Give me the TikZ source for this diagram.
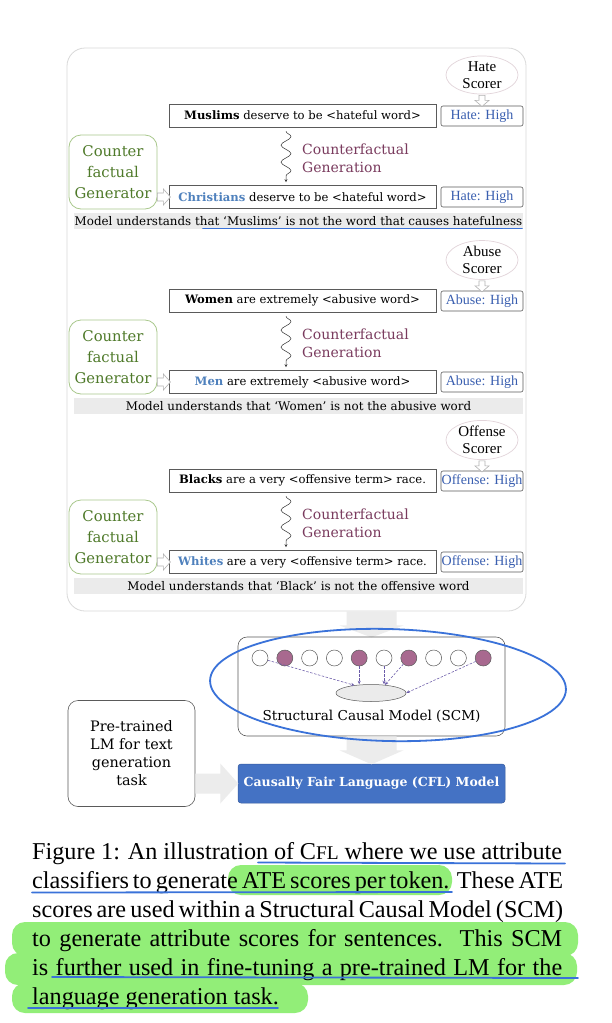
\documentclass[tikz,border=0pt]{standalone}
\usepackage{fontspec}
\setmainfont{Liberation Serif}
\newfontfamily\lora{DejaVu Serif}
\usetikzlibrary{shapes.geometric,decorations.pathmorphing,arrows.meta,calc}
\definecolor{boxgray}{HTML}{5A5A5A}
\definecolor{outergray}{HTML}{D9D9D9}
\definecolor{scoreblue}{HTML}{3A5FB0}
\definecolor{cflblue}{HTML}{4F81BD}
\definecolor{scorerpink}{HTML}{E2D4DA}
\definecolor{gengreen}{HTML}{A9C88C}
\definecolor{gentext}{HTML}{4F7A2A}
\definecolor{cfpurple}{HTML}{7A3B5E}
\definecolor{bargray}{HTML}{EBEBEB}
\definecolor{blockgray}{HTML}{ECECEC}
\definecolor{dotpurple}{HTML}{A8698F}
\definecolor{dasharrow}{HTML}{6A5AA8}
\definecolor{cflfill}{HTML}{4472C4}
\definecolor{penblue}{HTML}{3A72D9}
\definecolor{hlgreen}{RGB}{146,238,120}
\tikzset{
 sent/.style={draw=boxgray, line width=0.6pt, minimum width=267pt, minimum height=23pt, inner sep=0pt, font=\lora\fontsize{11.6}{13}\selectfont},
 score/.style={draw=boxgray, rounded corners=2pt, line width=0.6pt, minimum width=82pt, minimum height=20pt, inner sep=0pt, text=scoreblue, font=\fontsize{14}{16}\selectfont},
 scorer/.style={ellipse, draw=scorerpink, line width=0.7pt, minimum width=72pt, minimum height=38pt, inner sep=0pt, align=center, font=\fontsize{15}{17}\selectfont},
 gen/.style={draw=gengreen, rounded corners=12pt, line width=0.8pt, minimum width=88pt, minimum height=74pt, inner sep=0pt, align=center, text=gentext, font=\lora\fontsize{14.8}{21}\selectfont},
 cfgen/.style={align=left, text=cfpurple, inner sep=0pt, font=\lora\fontsize{14}{18}\selectfont},
 bar/.style={fill=bargray, minimum width=449pt, minimum height=16pt, inner sep=0pt, font=\lora\fontsize{11.9}{12}\selectfont},
 wavy/.style={draw=black!80, line width=0.5pt, decorate, decoration={snake, segment length=17pt, amplitude=5pt, post length=3pt}, -{Stealth[length=3pt,width=3pt]}},
 hollow/.style={draw=gray!60, fill=white, line width=0.6pt},
 block/.style={fill=blockgray, draw=none},
 dot/.style={circle, draw=boxgray, line width=0.5pt, minimum size=16pt, inner sep=0pt},
 pdot/.style={dot, fill=dotpurple},
 darr/.style={draw=dasharrow, line width=0.55pt, dash pattern=on 2.5pt off 1.5pt, -{Stealth[length=3.5pt,width=3pt]}},
 capline/.style={anchor=base west, inner sep=0pt, font=\fontsize{24.2}{29}\selectfont},
 pen/.style={draw=penblue, line width=1.8pt, line cap=round},
 hl/.style={fill=hlgreen, rounded corners=13pt},
}
\newcommand\cflpanel[7]{%
\begin{scope}[shift={(0,#2)}]
 \node[scorer] (#1sc) at (482,75) {#3\\Scorer};
 \node[sent] (#1s1) at (302.5,115.5) {\textbf{#4} #6};
 \node[score] (#1h1) at (482,116) {#3: High};
 \node[sent] (#1s2) at (302.5,197) {{\color{cflblue}\textbf{#5}} #6};
 \node[score] (#1h2) at (482,197) {#3: High};
 \node[gen] (#1g) at (113,172) {Counter\\factual\\Generator};
 \node[cfgen, anchor=west] (#1cf) at (302,158) {Counterfactual\\Generation};
 \node[bar] (#1bar) at (298.5,221) {#7};
 \draw[wavy] ([xshift=-16.5pt,yshift=-4pt]#1s1.south) -- ([xshift=-16.5pt,yshift=3pt]#1s2.north);
 \draw[hollow] ($(#1sc.south)+(-3,1)$) -- ++(0,5) -- ++(-4,0) -- ++(7,6) -- ++(7,-6) -- ++(-4,0) -- ++(0,-5) -- cycle;
 \draw[hollow] ($(#1g.east |- #1s2)+(0,-4)$) -- ++(6,0) -- ++(0,-4) -- ++(7,8) -- ++(-7,8) -- ++(0,-4) -- ++(-6,0) -- cycle;
\end{scope}}
\begin{document}
\begin{tikzpicture}[x=1pt,y=-1pt]
\useasboundingbox[fill=white] (0,0) rectangle (612,1023);
% outer panel
\node[draw=outergray, line width=0.8pt, rounded corners=18pt, minimum width=459pt, minimum height=563pt, inner sep=0pt] (outer) at (296.5,329.5) {};
\cflpanel{p}{0}{Hate}{Muslims}{Christians}{deserve to be <hateful word>}{Model understands that ‘Muslims’ is not the word that causes hatefulness}
\cflpanel{q}{185}{Abuse}{Women}{Men}{are extremely <abusive word>}{Model understands that ‘Women’ is not the abusive word}
\cflpanel{r}{365}{Offense}{Blacks}{Whites}{are a very <offensive term> race.}{Model understands that ‘Black’ is not the offensive word}
% lower part
\coordinate (scmtop) at (371.5,637);
\fill[block] ($(outer.south -| scmtop)+(-25,0)$) -- ++(0,14) -- ++(-7,0) -- ++(32,12) -- ++(32,-12) -- ++(-7,0) -- ++(0,-14) -- cycle;
\node[draw=boxgray, line width=0.6pt, rounded corners=9pt, minimum width=267pt, minimum height=99pt, inner sep=0pt] (scm) at (371.5,686.5) {};
\foreach \i in {1,...,10} {
  \pgfmathsetmacro\xx{260+(\i-1)*24.8}
  \ifnum\i=2 \node[pdot] (c\i) at (\xx,658) {};
  \else\ifnum\i=5 \node[pdot] (c\i) at (\xx,658) {};
  \else\ifnum\i=7 \node[pdot] (c\i) at (\xx,658) {};
  \else\ifnum\i=10 \node[pdot] (c\i) at (\xx,658) {};
  \else \node[dot] (c\i) at (\xx,658) {};
  \fi\fi\fi\fi
}
\node[ellipse, draw=boxgray, fill=bargray, line width=0.5pt, minimum width=70pt, minimum height=17pt, inner sep=0pt] (el) at (371,693) {};
\node[inner sep=0pt, font=\lora\fontsize{13.6}{16}\selectfont] (scmlab) at (371.5,716) {Structural Causal Model (SCM)};
\draw[darr] (c1) -- (el.155);
\draw[darr] (c5) -- (c5 |- el.north);
\draw[darr] (c6) -- (c6 |- el.north);
\draw[darr] (c7) -- (el.30);
\draw[darr] (c10) -- (el.east);
\node[fill=cflfill, draw=cflfill!80!black, line width=0.5pt, rounded corners=3pt, minimum width=267pt, minimum height=39pt, inner sep=0pt, text=white, font=\lora\bfseries\fontsize{12.5}{14}\selectfont] (cfl) at (371.5,783.5) {Causally Fair Language (CFL) Model};
\node[draw=boxgray, line width=0.6pt, rounded corners=10pt, minimum width=127pt, minimum height=106pt, inner sep=0pt, align=center, font=\lora\fontsize{14.4}{18}\selectfont] (pre) at (131.5,753.5) {Pre-trained\\LM for text\\generation\\task};
\fill[block] ($(scm.south)+(-25,0)$) -- ++(0,14) -- ++(-7,0) -- ++(32,14) -- ++(32,-14) -- ++(-7,0) -- ++(0,-14) -- cycle;
\fill[block] ($(pre.east |- cfl.west)+(0,-10)$) -- ++(25,0) -- ++(0,-10) -- ++(18,20) -- ++(-18,20) -- ++(0,-10) -- ++(-25,0) -- cycle;
% pen annotations on figure
\draw[pen, rotate around={-1.5:(388,685)}] (388,685) ellipse [x radius=178, y radius=56];
\draw[pen] (203,228.5) -- (522,228.5);
% caption
\fill[hl] (228,865) rectangle (452,895);
\fill[hl] (12,922) rectangle (578,956);
\fill[hl] (5,953) rectangle (577,985);
\fill[hl] (12,983) rectangle (308,1013);
\node[capline] (l1) at (32,859) {\makebox[530pt][s]{Figure 1: An illustration of C{\fontsize{19.4}{29}\selectfont FL} where we use attribute}};
\node[capline] (l2) at (32,888) {\makebox[530pt][s]{classifiers to generate ATE scores per token. These ATE}};
\node[capline] (l3) at (32,917) {\makebox[530pt][s]{scores are used within a Structural Causal Model (SCM)}};
\node[capline] (l4) at (32,946) {\makebox[530pt][s]{to generate attribute scores for sentences.\ \ This SCM}};
\node[capline] (l5) at (32,975) {\makebox[530pt][s]{is further used in fine-tuning a pre-trained LM for the}};
\node[capline] (l6) at (32,1004) {language generation task.};
\draw[pen] (258,862.5) -- (565,863.5);
\draw[pen] (32,892.5) -- (452,892);
\draw[pen] (52,977) -- (578,978);
\draw[pen] (28,1008) -- (278,1008);
\end{tikzpicture}
\end{document}
